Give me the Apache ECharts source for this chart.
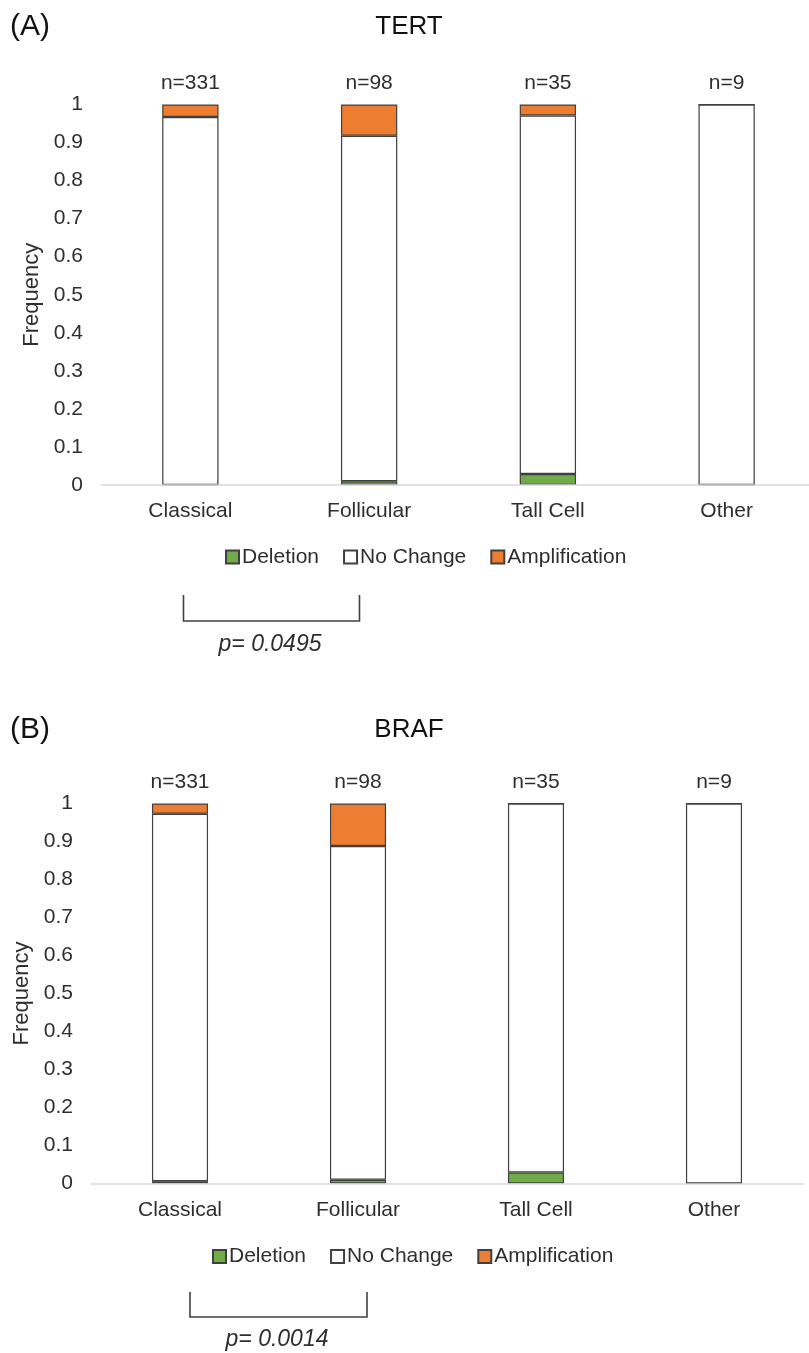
<!DOCTYPE html>
<html>
<head>
<meta charset="utf-8">
<script src="https://cdn.jsdelivr.net/npm/echarts@6/dist/echarts.min.js"></script>
<style>
html,body{margin:0;padding:0;background:#fff;overflow:hidden;}
#chart{width:809px;height:1353px;}
</style>
</head>
<body>
<div id="chart"></div>
<script>
// ---- data ----
var categories = ['Classical', 'Follicular', 'Tall Cell', 'Other'];
var nLabels = ['n=331', 'n=98', 'n=35', 'n=9'];
var seriesNames = ['Deletion', 'No Change', 'Amplification'];

var tertDeletion      = [0,     0.010, 0.029, 0];
var tertNoChange      = [0.967, 0.908, 0.942, 1];
var tertAmplification = [0.033, 0.082, 0.029, 0];

var brafDeletion      = [0.006, 0.010, 0.029, 0];
var brafNoChange      = [0.967, 0.878, 0.971, 1];
var brafAmplification = [0.027, 0.112, 0,     0];

var yTicks = [0, 0.1, 0.2, 0.3, 0.4, 0.5, 0.6, 0.7, 0.8, 0.9, 1];

var pTert = 'p= 0.0495';
var pBraf = 'p= 0.0014';

// ---- styles ----
var FONT = '"Liberation Sans", Arial, sans-serif';
var TXT = '#2e2e2e';
var colors = { 'Deletion': '#70ad47', 'No Change': '#ffffff', 'Amplification': '#ed7d31' };
var BORDER = '#404040';

function makeSeries(gridIdx, stackName, arrs) {
  return seriesNames.map(function (name, i) {
    return {
      name: name,
      type: 'bar',
      xAxisIndex: gridIdx * 2,
      yAxisIndex: gridIdx,
      stack: stackName,
      barWidth: '31.5%',
      data: arrs[i],
      itemStyle: { color: colors[name], borderColor: BORDER, borderWidth: 1.2 },
      emphasis: { disabled: true },
      z: 2
    };
  });
}

function catAxis(gridIdx) {
  return {
    type: 'category', gridIndex: gridIdx, data: categories, position: 'bottom', z: 5,
    axisLine: { show: true, lineStyle: { color: '#d9d9d9', width: 1.5 } },
    axisTick: { show: false },
    axisLabel: { color: TXT, fontSize: 21, fontFamily: FONT, margin: 16 }
  };
}
function nAxis(gridIdx) {
  return {
    type: 'category', gridIndex: gridIdx, data: nLabels, position: 'top',
    axisLine: { show: false }, axisTick: { show: false }, splitLine: { show: false },
    axisLabel: { color: TXT, fontSize: 21, fontFamily: FONT, margin: 11 }
  };
}
function valAxis(gridIdx, gap) {
  return {
    type: 'value', gridIndex: gridIdx, min: 0, max: 1, interval: 0.1,
    name: 'Frequency', nameLocation: 'middle', nameRotate: 90, nameGap: gap,
    nameTextStyle: { color: TXT, fontSize: 22, fontFamily: FONT },
    axisLine: { show: false }, axisTick: { show: false }, splitLine: { show: false },
    axisLabel: {
      color: TXT, fontSize: 21, fontFamily: FONT, margin: 18,
      formatter: function (v) {
        for (var i = 0; i < yTicks.length; i++) {
          if (Math.abs(yTicks[i] - v) < 1e-9) return String(yTicks[i]);
        }
        return '';
      }
    }
  };
}
function legendAt(left, top) {
  return {
    data: seriesNames, left: left, top: top, orient: 'horizontal',
    itemWidth: 13, itemHeight: 13, itemGap: 24, icon: 'rect', selectedMode: false,
    textStyle: { color: TXT, fontSize: 21, fontFamily: FONT, padding: [0, 0, 0, -2] }
  };
}
function bracket(x1, x2, yTop, yBot, label, cx, cy) {
  return [
    { type: 'polyline', shape: { points: [[x1, yTop], [x1, yBot], [x2, yBot], [x2, yTop]] },
      style: { stroke: '#404040', lineWidth: 1.6, fill: null } },
    { type: 'text', x: cx, y: cy,
      style: { text: label, fill: TXT, font: 'italic 23px ' + FONT, textAlign: 'center', textVerticalAlign: 'middle' } }
  ];
}

var chart = echarts.init(document.getElementById('chart'), null, { renderer: 'canvas' });
var option = {
  backgroundColor: '#ffffff',
  animation: false,
  textStyle: { fontFamily: FONT },
  grid: [
    { left: 101, width: 715, top: 104.5, height: 380.5, containLabel: false, outerBoundsMode: 'none' },
    { left: 91, width: 712, top: 803.5, height: 380, containLabel: false, outerBoundsMode: 'none' }
  ],
  xAxis: [catAxis(0), nAxis(0), catAxis(1), nAxis(1)],
  yAxis: [valAxis(0, 55), valAxis(1, 57)],
  legend: [legendAt(220, 541.5), legendAt(207, 1241)],
  series: makeSeries(0, 'tert', [tertDeletion, tertNoChange, tertAmplification])
    .concat(makeSeries(1, 'braf', [brafDeletion, brafNoChange, brafAmplification])),
  graphic: [
    { type: 'text', x: 10, y: 27, style: { text: '(A)', fill: '#111', font: '30px ' + FONT, textVerticalAlign: 'middle' } },
    { type: 'text', x: 409, y: 27, style: { text: 'TERT', fill: '#111', font: '26px ' + FONT, textAlign: 'center', textVerticalAlign: 'middle' } },
    { type: 'text', x: 10, y: 730, style: { text: '(B)', fill: '#111', font: '30px ' + FONT, textVerticalAlign: 'middle' } },
    { type: 'text', x: 409, y: 730, style: { text: 'BRAF', fill: '#111', font: '26px ' + FONT, textAlign: 'center', textVerticalAlign: 'middle' } }
  ].concat(bracket(183.5, 359.5, 595, 621, pTert, 270, 645))
   .concat(bracket(190, 367, 1292, 1317, pBraf, 277, 1340))
};
chart.setOption(option);
</script>
</body>
</html>
